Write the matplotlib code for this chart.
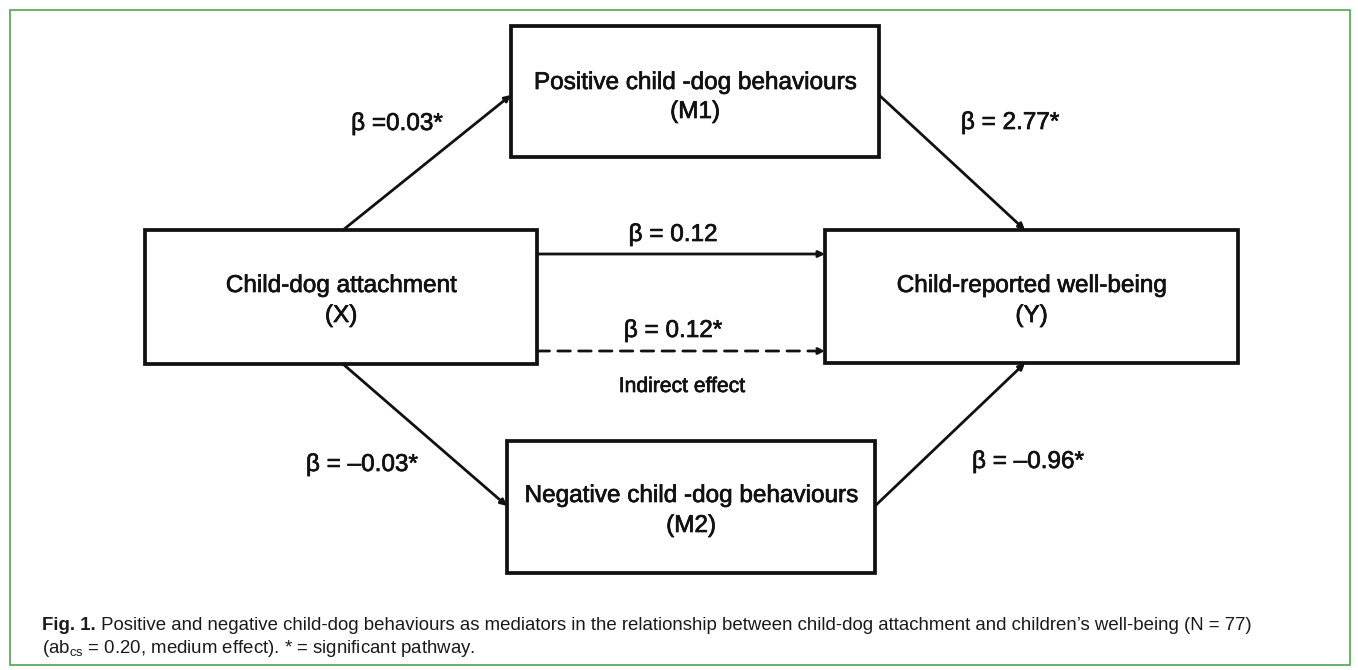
import matplotlib
matplotlib.use("Agg")
import matplotlib.pyplot as plt
import matplotlib.patheffects as pe
from matplotlib.patches import Rectangle

plt.rcParams['font.family'] = ['Liberation Sans', 'DejaVu Sans']
plt.rcParams['mathtext.fontset'] = 'custom'
plt.rcParams['mathtext.rm'] = 'Liberation Sans'

# --- diagram content ---
node_keys = ["X", "M1", "M2", "Y"]
node_names = ["Child-dog attachment", "Positive child -dog behaviours",
              "Negative child -dog behaviours", "Child-reported well-being"]
node_codes = ["(X)", "(M1)", "(M2)", "(Y)"]

path_from = ["X", "M1", "X", "M2", "X", "X"]
path_to = ["M1", "Y", "M2", "Y", "Y", "Y"]
path_labels = ["β =0.03*", "β = 2.77*", "β = –0.03*", "β = –0.96*",
               "β = 0.12", "β = 0.12*"]
path_dashed = [False, False, False, False, False, True]
indirect_note = "Indirect effect"

caption_bold = "Fig. 1."
caption_line1 = (" Positive and negative child-dog behaviours as mediators in the "
                 "relationship between child-dog attachment and children\u2019s "
                 "well-being (N = 77)")
caption_line2 = r"(ab$_\mathrm{cs}$ = 0.20, medium effect). * = significant pathway."

# --- layout (pixel coordinates, y downwards) ---
W, H = 1358, 670
boxes = {"X": (145, 230, 537, 364), "M1": (511, 26, 879, 157),
         "M2": (507, 441, 875, 573), "Y": (825, 230, 1238, 363)}
text_y = {"X": (292, 322), "M1": (89, 118), "M2": (502, 532), "Y": (292, 322)}
path_xy = [((343, 230), (511, 95)), ((879, 95), (1025, 230)),
           ((343, 364), (507, 506)), ((875, 506), (1025, 363)),
           ((537, 254), (825, 254)), ((537, 351), (825, 351))]
label_xy = [(397, 130), (1010, 129), (362, 471), (1028, 468),
            (673, 241), (673, 337)]

fig = plt.figure(figsize=(W / 100, H / 100), dpi=100)
ax = fig.add_axes([0, 0, 1, 1])
ax.set_xlim(0, W)
ax.set_ylim(H, 0)
ax.axis("off")

# green frame
ax.add_patch(Rectangle((10, 10), 1340, 655, fill=False, ec="#5cad5c", lw=1.3))

heavy = [pe.withStroke(linewidth=0.5, foreground="#111111")]
fs = 17.5

for key, name, code in zip(node_keys, node_names, node_codes):
    x0, y0, x1, y1 = boxes[key]
    ax.add_patch(Rectangle((x0, y0), x1 - x0, y1 - y0, fill=False,
                           ec="#111111", lw=2.7, joinstyle="miter"))
    cx = (x0 + x1) / 2
    ax.text(cx, text_y[key][0], name, ha="center", va="baseline",
            fontsize=fs, color="#111111", path_effects=heavy)
    ax.text(cx, text_y[key][1], code, ha="center", va="baseline",
            fontsize=fs, color="#111111", path_effects=heavy)

for (p0, p1), lab, (lx, ly), dashed in zip(path_xy, path_labels, label_xy, path_dashed):
    ax.annotate("", xy=p1, xytext=p0,
                arrowprops=dict(arrowstyle="-|>", mutation_scale=9, lw=2.0,
                                color="#111111", shrinkA=0, shrinkB=0,
                                linestyle=(0, (4.5, 3)) if dashed else "-"))
    ax.text(lx, ly, lab, ha="center", va="baseline", fontsize=fs,
            color="#111111", path_effects=heavy)

ax.text(682, 392, indirect_note, ha="center", va="baseline", fontsize=15.2,
        color="#111111", path_effects=heavy)

# caption
cap_fs = 13.4
t = ax.text(42, 630, caption_bold, ha="left", va="baseline", fontsize=cap_fs,
            fontweight="bold", color="#1a1a1a")
fig.canvas.draw()
bb = t.get_window_extent(renderer=fig.canvas.get_renderer())
x_end = ax.transData.inverted().transform((bb.x1, bb.y0))[0]
ax.text(x_end, 630, caption_line1, ha="left", va="baseline", fontsize=cap_fs,
        color="#1a1a1a")
ax.text(42, 653, caption_line2, ha="left", va="baseline", fontsize=cap_fs,
        color="#1a1a1a")

fig.savefig("out.png", dpi=100, facecolor="white")
